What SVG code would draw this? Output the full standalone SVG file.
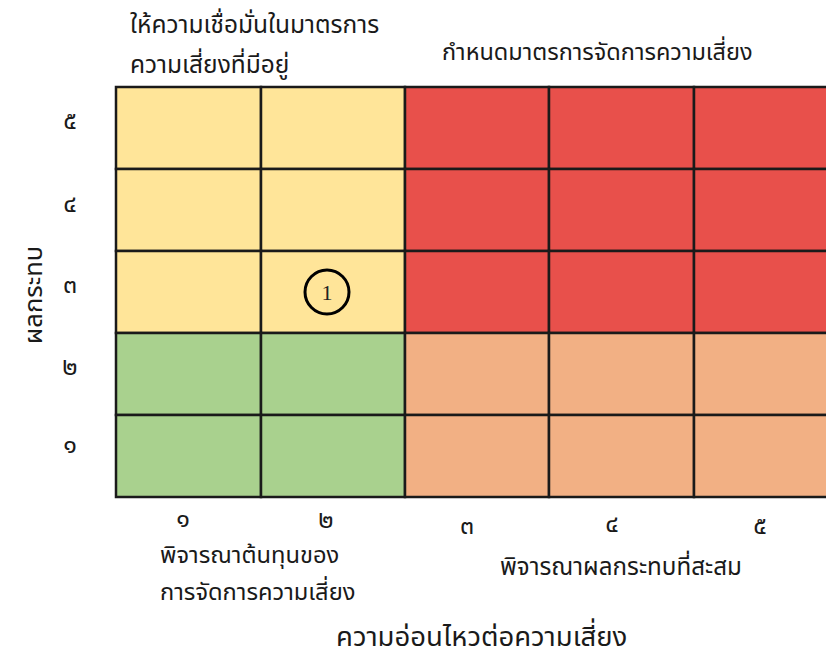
<svg xmlns="http://www.w3.org/2000/svg" width="826" height="659" viewBox="0 0 826 659">
<style>
.t{font-family:"Noto Sans Thai","Noto Sans","DejaVu Sans",sans-serif;fill:#1a1a1a;}
.n{font-size:25px;}
.cell{stroke:#1a1a1a;stroke-width:2.5;}
.y{fill:#FFE599;}.r{fill:#E8504B;}.o{fill:#F2B084;}.g{fill:#A9D18E;}
</style>
<rect width="826" height="659" fill="#fff"/>
<g id="grid">
<rect class="cell y" x="116" y="87" width="145" height="82"/>
<rect class="cell y" x="261" y="87" width="144" height="82"/>
<rect class="cell r" x="405" y="87" width="144" height="82"/>
<rect class="cell r" x="549" y="87" width="145" height="82"/>
<rect class="cell r" x="694" y="87" width="140" height="82"/>
<rect class="cell y" x="116" y="169" width="145" height="82"/>
<rect class="cell y" x="261" y="169" width="144" height="82"/>
<rect class="cell r" x="405" y="169" width="144" height="82"/>
<rect class="cell r" x="549" y="169" width="145" height="82"/>
<rect class="cell r" x="694" y="169" width="140" height="82"/>
<rect class="cell y" x="116" y="251" width="145" height="82"/>
<rect class="cell y" x="261" y="251" width="144" height="82"/>
<rect class="cell r" x="405" y="251" width="144" height="82"/>
<rect class="cell r" x="549" y="251" width="145" height="82"/>
<rect class="cell r" x="694" y="251" width="140" height="82"/>
<rect class="cell g" x="116" y="333" width="145" height="82"/>
<rect class="cell g" x="261" y="333" width="144" height="82"/>
<rect class="cell o" x="405" y="333" width="144" height="82"/>
<rect class="cell o" x="549" y="333" width="145" height="82"/>
<rect class="cell o" x="694" y="333" width="140" height="82"/>
<rect class="cell g" x="116" y="415" width="145" height="82"/>
<rect class="cell g" x="261" y="415" width="144" height="82"/>
<rect class="cell o" x="405" y="415" width="144" height="82"/>
<rect class="cell o" x="549" y="415" width="145" height="82"/>
<rect class="cell o" x="694" y="415" width="140" height="82"/>
</g>
<g id="marker1">
<circle cx="327" cy="292" r="22" fill="none" stroke="#000" stroke-width="3"/>
<text x="327" y="300" text-anchor="middle" font-family="'Liberation Serif',serif" font-size="22" fill="#222">1</text>
</g>
<g id="labels-top">
<text class="t" x="130" y="33" font-size="24.5">ให้ความเชื่อมั่นในมาตรการ</text>
<text class="t" x="130" y="73" font-size="24.5">ความเสี่ยงที่มีอยู่</text>
<text class="t" x="442" y="60" font-size="23.5">กำหนดมาตรการจัดการความเสี่ยง</text>
</g>
<g id="y-axis">
<text class="t" font-size="25.5" transform="translate(42,295) rotate(-90)" text-anchor="middle">ผลกระทบ</text>
<text class="t n" x="70" y="129" text-anchor="middle">๕</text>
<text class="t n" x="70" y="212" text-anchor="middle">๔</text>
<text class="t n" x="70" y="293" text-anchor="middle">๓</text>
<text class="t n" x="70" y="375" text-anchor="middle">๒</text>
<text class="t n" x="70" y="453" text-anchor="middle">๑</text>
</g>
<g id="x-axis">
<text class="t n" x="183" y="527" text-anchor="middle">๑</text>
<text class="t n" x="326" y="528" text-anchor="middle">๒</text>
<text class="t n" x="467" y="534" text-anchor="middle">๓</text>
<text class="t n" x="612" y="532" text-anchor="middle">๔</text>
<text class="t n" x="760" y="534" text-anchor="middle">๕</text>
<text class="t" x="160" y="563" font-size="23.7">พิจารณาต้นทุนของ</text>
<text class="t" x="160" y="600" font-size="23.7">การจัดการความเสี่ยง</text>
<text class="t" x="500" y="575" font-size="24.2">พิจารณาผลกระทบที่สะสม</text>
<text class="t" x="336" y="646" font-size="27.5">ความอ่อนไหวต่อความเสี่ยง</text>
</g>
</svg>
